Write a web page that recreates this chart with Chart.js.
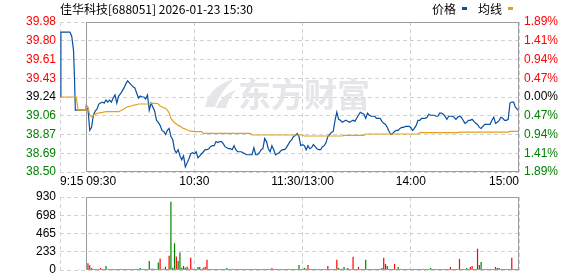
<!DOCTYPE html>
<html>
<head>
<meta charset="utf-8">
<script src="https://cdn.jsdelivr.net/npm/chart.js@4.4.1/dist/chart.umd.min.js"></script>
<style>
html, body { margin: 0; padding: 0; background: #fff; }
#wrap { position: relative; width: 578px; height: 276px; }
#priceChart { position: absolute; left: 0; top: 0; }
#volChart { position: absolute; left: 0; top: 188px; }
</style>
</head>
<body>
<div id="wrap">
  <canvas id="priceChart" width="578" height="188"></canvas>
  <canvas id="volChart" width="578" height="88"></canvas>
</div>
<script>
// header texts
const titleText = '佳华科技[688051] 2026-01-23 15:30';
const legendNames = ['价格', '均线'];
const watermark = '东方财富';

// x axis: minutes from 09:30 (11:30 and 13:00 share one slot)
const xTickMins = [-14.5, 0, 60, 120, 180, 240];
const xLabels = ['9:15', '09:30', '10:30', '11:30/13:00', '14:00', '15:00'];

// y axes, bottom to top
const priceMin = 38.50;
const priceMax = 39.98;
const priceLabels = ['38.50', '38.69', '38.87', '39.06', '39.24', '39.43', '39.61', '39.80', '39.98'];
const pctLabels = ['1.89%', '1.41%', '0.94%', '0.47%', '0.00%', '0.47%', '0.94%', '1.41%', '1.89%'];
const volMax = 930;
const volLabels = ['0', '233', '465', '698', '930'];

// call auction 9:15-9:25
const preTime = [-14.5, -14, -9, -8, -7, -6.5, -6, 0];
const prePrice = [39.24, 39.88, 39.88, 39.84, 39.70, 39.45, 39.11, 39.11];
const preAvgTime = [-14.5, -5.5, -4.5, 0];
const preAvg = [39.24, 39.24, 39.11, 39.11];
const preVolTime = [-4];
const preVol = [10];
const preVolDir = 'g';

// one value per minute, 09:30 .. 15:00
const price = [
  39.14, 39.12, 38.91, 38.94, 39.06, 39.10, 39.12, 39.17, 39.18, 39.19, 39.18, 39.21, 39.19, 39.21, 39.19, 39.23, 39.26, 39.18, 39.25, 39.27,
  39.30, 39.33, 39.37, 39.40, 39.38, 39.36, 39.34, 39.33, 39.28, 39.23, 39.25, 39.24, 39.24, 39.22, 39.26, 39.11, 39.18, 39.14, 39.10, 39.01,
  38.99, 38.96, 38.91, 38.90, 38.87, 38.91, 38.93, 38.85, 38.82, 38.72, 38.69, 38.72, 38.66, 38.62, 38.66, 38.55, 38.59, 38.63, 38.68, 38.69,
  38.68, 38.70, 38.64, 38.66, 38.68, 38.70, 38.72, 38.72, 38.73, 38.75, 38.76, 38.76, 38.80, 38.79, 38.80, 38.80, 38.78, 38.75, 38.74, 38.73,
  38.73, 38.72, 38.76, 38.72, 38.70, 38.70, 38.70, 38.69, 38.68, 38.67, 38.67, 38.67, 38.67, 38.74, 38.67, 38.67, 38.69, 38.72, 38.73, 38.83,
  38.80, 38.73, 38.70, 38.76, 38.72, 38.67, 38.68, 38.69, 38.71, 38.72, 38.72, 38.74, 38.77, 38.80, 38.82, 38.85, 38.86, 38.88, 38.85, 38.76,
  38.77, 38.76, 38.72, 38.76, 38.73, 38.74, 38.77, 38.75, 38.73, 38.72, 38.72, 38.75, 38.76, 38.79, 38.85, 38.87, 38.89, 38.90, 39.01, 39.09,
  39.02, 39.01, 38.99, 39.00, 39.01, 39.00, 38.99, 39.00, 39.01, 39.00, 39.03, 39.06, 39.09, 39.08, 39.07, 39.03, 39.08, 39.06, 39.05, 39.05,
  39.05, 39.03, 39.03, 39.03, 39.00, 38.98, 38.97, 38.94, 38.90, 38.87, 38.88, 38.90, 38.91, 38.91, 38.93, 38.94, 38.94, 38.95, 38.95, 38.95,
  38.94, 38.91, 38.93, 38.96, 39.01, 39.01, 39.03, 39.03, 39.03, 39.04, 39.07, 39.06, 39.06, 39.06, 39.05, 39.05, 39.08, 39.08, 39.07, 39.05,
  39.02, 39.05, 39.05, 39.05, 39.04, 39.02, 39.04, 39.05, 39.04, 39.01, 38.98, 38.99, 39.01, 39.01, 39.02, 39.00, 38.98, 38.97, 38.94, 38.93,
  38.95, 38.97, 38.97, 38.97, 38.97, 39.01, 39.04, 38.98, 38.99, 39.01, 39.04, 39.03, 39.01, 39.01, 39.02, 39.18, 39.19, 39.19, 39.14, 39.12, 39.10
];

const avgPrice = [
  39.161, 39.144, 39.062, 39.046, 39.059, 39.069, 39.078, 39.082, 39.085, 39.088, 39.092, 39.095, 39.095, 39.095, 39.095, 39.095, 39.095, 39.095, 39.095, 39.105,
  39.111, 39.121, 39.134, 39.144, 39.148, 39.151, 39.157, 39.161, 39.164, 39.171, 39.171, 39.171, 39.171, 39.171, 39.171, 39.171, 39.177, 39.177, 39.177, 39.177,
  39.171, 39.151, 39.144, 39.134, 39.128, 39.111, 39.085, 39.029, 39.006, 38.986, 38.973, 38.960, 38.953, 38.940, 38.930, 38.924, 38.914, 38.907, 38.904, 38.901,
  38.898, 38.898, 38.898, 38.898, 38.898, 38.881, 38.881, 38.881, 38.881, 38.881, 38.881, 38.881, 38.881, 38.881, 38.881, 38.881, 38.881, 38.881, 38.881, 38.881,
  38.881, 38.881, 38.881, 38.881, 38.881, 38.881, 38.881, 38.881, 38.881, 38.881, 38.881, 38.881, 38.865, 38.865, 38.865, 38.865, 38.865, 38.865, 38.865, 38.865,
  38.865, 38.865, 38.865, 38.865, 38.865, 38.865, 38.865, 38.865, 38.865, 38.865, 38.865, 38.865, 38.865, 38.865, 38.865, 38.865, 38.865, 38.865, 38.865, 38.865,
  38.865, 38.855, 38.855, 38.855, 38.855, 38.855, 38.855, 38.855, 38.855, 38.855, 38.855, 38.855, 38.855, 38.855, 38.855, 38.855, 38.855, 38.855, 38.855, 38.855,
  38.855, 38.855, 38.855, 38.861, 38.861, 38.861, 38.861, 38.861, 38.861, 38.861, 38.861, 38.861, 38.861, 38.861, 38.861, 38.875, 38.875, 38.875, 38.875, 38.875,
  38.875, 38.875, 38.875, 38.875, 38.875, 38.875, 38.875, 38.875, 38.875, 38.875, 38.875, 38.875, 38.875, 38.875, 38.875, 38.875, 38.875, 38.875, 38.875, 38.875,
  38.875, 38.875, 38.875, 38.875, 38.875, 38.888, 38.888, 38.888, 38.888, 38.888, 38.888, 38.888, 38.888, 38.888, 38.888, 38.888, 38.888, 38.888, 38.888, 38.888,
  38.888, 38.888, 38.888, 38.888, 38.888, 38.888, 38.888, 38.894, 38.894, 38.894, 38.894, 38.894, 38.894, 38.894, 38.894, 38.894, 38.894, 38.894, 38.894, 38.894,
  38.894, 38.894, 38.894, 38.894, 38.894, 38.894, 38.894, 38.894, 38.894, 38.894, 38.894, 38.894, 38.894, 38.894, 38.894, 38.901, 38.901, 38.901, 38.901, 38.901, 38.901
];

const volume = [
  0, 86, 60, 26, 12, 8, 8, 10, 26, 8, 10, 52, 10, 8, 8, 10, 8, 10, 8, 10,
  8, 10, 8, 8, 10, 8, 10, 8, 12, 8, 26, 8, 8, 8, 4, 116, 16, 16, 8, 4,
  95, 146, 8, 16, 43, 4, 181, 870, 30, 340, 172, 116, 224, 30, 52, 30, 40, 16, 155, 16,
  8, 4, 39, 39, 4, 30, 40, 129, 8, 8, 8, 8, 8, 10, 8, 8, 10, 8, 26, 8,
  8, 10, 8, 8, 10, 8, 8, 10, 8, 8, 10, 8, 8, 8, 10, 8, 8, 10, 8, 8,
  8, 8, 10, 26, 8, 8, 10, 8, 8, 10, 8, 8, 10, 8, 8, 10, 8, 10, 65, 10,
  10, 26, 16, 65, 8, 8, 10, 8, 10, 8, 8, 10, 8, 8, 52, 8, 10, 10, 8, 129,
  26, 10, 16, 39, 8, 26, 10, 8, 168, 8, 10, 39, 8, 8, 8, 129, 10, 8, 8, 8,
  8, 8, 10, 8, 26, 155, 77, 52, 10, 8, 10, 77, 8, 39, 8, 10, 8, 8, 12, 8,
  8, 8, 10, 8, 8, 10, 8, 8, 10, 8, 8, 26, 8, 10, 8, 8, 10, 8, 8, 10,
  8, 10, 39, 8, 8, 10, 8, 142, 8, 10, 8, 26, 10, 39, 52, 8, 10, 271, 65, 103,
  12, 8, 8, 10, 8, 8, 10, 39, 26, 26, 8, 8, 10, 12, 8, 10, 155, 8, 8, 10, 12
];

// r = up (red), g = down (green)
const volDir = [
  'rrgrrrrrrrggrgrrrrrr', 'rrrrgggggggrrgggrggg', 'grgggrrgggrgggrggrrr', 'rrggrrrrgrrrrrrgrrgg',
  'grrggrrgrggrgrrgggrr', 'grrrrggrrrgrrrrrgrgr', 'rgrrrgrrrrgrrrrrrrgr', 'ggggrrgrrrrrrggggggr',
  'rrrrgrrggggrggrrrrrg', 'grrrrrrrrrrgrrrrrgrr', 'rrrggrgrgrggrrrgrrgg', 'ggrrgrrrggrrgrrrrgrrg'
].join('');

const upColor = '#ff0000';
const downColor = '#008000';
const lineBlue = '#0a4f9f';
const lineGold = '#e2a11c';
const gridColor = '#d2d2d2';
const frameColor = '#9c9c9c';
const tickFont = { family: 'Liberation Sans, Arial, sans-serif', size: 12 };

function evenTicks(min, max, n) {
  const out = [];
  for (let i = 0; i < n; i++) out.push({ value: min + (max - min) * i / (n - 1) });
  return out;
}

function labelColor(idx, mid) {
  if (idx < mid) return downColor;
  if (idx > mid) return upColor;
  return '#000';
}

// keep the plot box exactly where the layout padding puts it
function fixWidth(w) {
  return s => { s.width = w; s.paddingTop = 0; s.paddingBottom = 0; };
}

// solid box round the trading session, the auction part keeps dashed grid
const framePlugin = {
  id: 'frame',
  afterDatasetsDraw(chart) {
    const ctx = chart.ctx;
    const a = chart.chartArea;
    const x0 = Math.round(chart.scales.x.getPixelForValue(0)) + 0.5;
    const x1 = Math.round(chart.scales.x.getPixelForValue(240)) - 0.5;
    ctx.save();
    ctx.strokeStyle = frameColor;
    ctx.lineWidth = 1;
    ctx.strokeRect(x0, Math.round(a.top) + 0.5, x1 - x0, Math.round(a.bottom) - Math.round(a.top) - 1);
    ctx.restore();
  }
};

const markPlugin = {
  id: 'mark',
  beforeDatasetsDraw(chart) {
    const ctx = chart.ctx;
    ctx.save();
    ctx.fillStyle = '#e6e6ea';
    // little swoosh in front of the logo text
    ctx.beginPath();
    ctx.moveTo(205, 107);
    ctx.quadraticCurveTo(209, 86, 234, 79);
    ctx.quadraticCurveTo(220, 92, 215, 107);
    ctx.closePath();
    ctx.fill();
    ctx.beginPath();
    ctx.moveTo(216, 108);
    ctx.quadraticCurveTo(222, 94, 236, 90);
    ctx.quadraticCurveTo(228, 99, 226, 108);
    ctx.closePath();
    ctx.fill();
    ctx.font = 'bold 33px "Noto Sans CJK SC", sans-serif';
    ctx.textBaseline = 'middle';
    ctx.fillText(watermark, 238, 94, 144);
    ctx.restore();
  }
};

const textPlugin = {
  id: 'texts',
  afterDraw(chart) {
    const ctx = chart.ctx;
    const a = chart.chartArea;
    const xs = chart.scales.x;
    ctx.save();
    ctx.textBaseline = 'middle';
    ctx.fillStyle = '#000';
    ctx.font = '12px "Noto Sans CJK SC", sans-serif';
    ctx.textAlign = 'left';
    ctx.fillText(titleText, 60, 9, 197);

    ctx.fillText(legendNames[0], 432, 9);
    ctx.fillText(legendNames[1], 478, 9);
    ctx.fillStyle = lineBlue;
    ctx.fillRect(462, 7, 5, 3);
    ctx.fillStyle = lineGold;
    ctx.fillRect(508, 7, 5, 3);

    ctx.fillStyle = '#000';
    ctx.font = '12px "Liberation Sans", Arial, sans-serif';
    xLabels.forEach((lab, i) => {
      const px = xs.getPixelForValue(xTickMins[i]);
      if (i < 2) ctx.textAlign = 'left';
      else if (i === xLabels.length - 1) ctx.textAlign = 'right';
      else ctx.textAlign = 'center';
      ctx.fillText(lab, px, a.bottom + 10);
    });
    ctx.restore();
  }
};

const xScale = (h) => ({
  type: 'linear',
  min: xTickMins[0],
  max: 240,
  offset: false,
  afterBuildTicks: s => { s.ticks = xTickMins.map(v => ({ value: v })); },
  afterFit: s => { s.height = h; s.paddingLeft = 0; s.paddingRight = 0; },
  ticks: { display: false },
  grid: { color: gridColor, drawTicks: false, offset: false },
  border: { display: false, dash: [4, 3] }
});

const pricePoints = preTime.map((t, i) => ({ x: t, y: prePrice[i] }))
  .concat(price.map((p, i) => ({ x: i, y: p })));
const avgPoints = preAvgTime.map((t, i) => ({ x: t, y: preAvg[i] }))
  .concat(avgPrice.map((p, i) => ({ x: i, y: p })));

new Chart(document.getElementById('priceChart'), {
  type: 'line',
  data: {
    datasets: [
      { label: legendNames[1], data: avgPoints, borderColor: lineGold, borderWidth: 1.2, pointRadius: 0, tension: 0, fill: false },
      { label: legendNames[0], data: pricePoints, borderColor: lineBlue, borderWidth: 1.2, pointRadius: 0, tension: 0, fill: false }
    ]
  },
  options: {
    responsive: false,
    animation: false,
    events: [],
    layout: { padding: { top: 22, left: 0, right: 0, bottom: 0 } },
    plugins: { legend: { display: false }, tooltip: { enabled: false } },
    scales: {
      x: xScale(16),
      y: {
        position: 'left',
        min: priceMin,
        max: priceMax,
        afterBuildTicks: s => { s.ticks = evenTicks(priceMin, priceMax, priceLabels.length); },
        afterFit: fixWidth(60),
        ticks: {
          font: tickFont,
          padding: 4,
          callback: (v, i) => priceLabels[i],
          color: c => labelColor(c.index, 4)
        },
        grid: { color: gridColor, drawTicks: false },
        border: { display: false, dash: [4, 3] }
      },
      yr: {
        position: 'right',
        min: priceMin,
        max: priceMax,
        afterBuildTicks: s => { s.ticks = evenTicks(priceMin, priceMax, pctLabels.length); },
        afterFit: fixWidth(59),
        ticks: {
          font: tickFont,
          padding: 5,
          callback: (v, i) => pctLabels[i],
          color: c => labelColor(c.index, 4)
        },
        grid: { display: false, drawTicks: false },
        border: { display: false }
      }
    }
  },
  plugins: [markPlugin, framePlugin, textPlugin]
});

const volPoints = preVolTime.map((t, i) => ({ x: t, y: preVol[i] }))
  .concat(volume.map((v, i) => ({ x: i, y: v })));
const volColors = (preVolDir + volDir).split('').map(d => d === 'r' ? upColor : downColor);

new Chart(document.getElementById('volChart'), {
  type: 'bar',
  data: {
    datasets: [{ data: volPoints, backgroundColor: volColors, borderWidth: 0, barThickness: 1.2, inflateAmount: 0 }]
  },
  options: {
    responsive: false,
    animation: false,
    events: [],
    layout: { padding: { top: 9, left: 0, right: 59, bottom: 0 } },
    plugins: { legend: { display: false }, tooltip: { enabled: false } },
    scales: {
      x: xScale(6),
      y: {
        position: 'left',
        min: 0,
        max: volMax,
        afterBuildTicks: s => { s.ticks = evenTicks(0, volMax, volLabels.length); },
        afterFit: fixWidth(60),
        ticks: { font: tickFont, padding: 4, color: '#000', callback: (v, i) => volLabels[i] },
        grid: { color: gridColor, drawTicks: false },
        border: { display: false, dash: [4, 3] }
      }
    }
  },
  plugins: [framePlugin]
});
</script>
</body>
</html>
